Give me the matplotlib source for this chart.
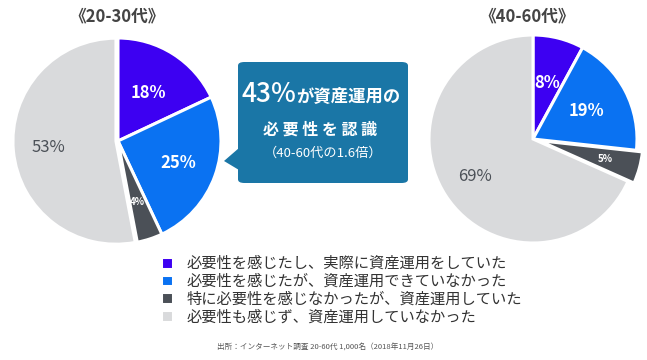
import numpy as np
import matplotlib.pyplot as plt
from matplotlib.patches import FancyBboxPatch, Polygon

plt.rcParams['font.family'] = ['Noto Sans CJK JP', 'DejaVu Sans']

# データ
groups = ["《20-30代》", "《40-60代》"]
young = [18, 25, 4, 53]
senior = [8, 19, 5, 69]
categories = [
    "必要性を感じたし、実際に資産運用をしていた",
    "必要性を感じたが、資産運用できていなかった",
    "特に必要性を感じなかったが、資産運用していた",
    "必要性も感じず、資産運用していなかった",
]
colors = ["#3d00f2", "#0a72f2", "#4b5057", "#d9dadc"]
label_colors = ["white", "white", "white", "#4b5057"]
label_sizes = [12, 12, 7, 12]

W, H = 647, 360
fig = plt.figure(figsize=(W / 100, H / 100), dpi=100)


def pie_axes(cx, cy, r):
    ax = fig.add_axes([(cx - r) / W, (H - cy - r) / H, 2 * r / W, 2 * r / H])
    ax.axis("off")
    return ax


def draw_pie(ax, vals, explode, dist):
    wedges, _ = ax.pie(vals, colors=colors, startangle=90, counterclock=False,
                       explode=explode, radius=1,
                       wedgeprops=dict(edgecolor="white", linewidth=2.2))
    ax.set_xlim(-1, 1)
    ax.set_ylim(-1, 1)
    ax.set_aspect("equal")
    for w, v, c, s, d in zip(wedges, vals, label_colors, label_sizes, dist):
        ang = np.deg2rad((w.theta1 + w.theta2) / 2)
        cx, cy = w.center
        ax.text(cx + d * np.cos(ang), cy + d * np.sin(ang), f"{v}%",
                ha="center", va="center", color=c, fontsize=s,
                fontweight="bold" if c == "white" else "normal")
        w.set_clip_on(False)
    return wedges


ax1 = pie_axes(118, 141, 103)
wedges = draw_pie(ax1, young, [0, 0, 0, 0.02], [0.55, 0.62, 0.62, 0.66])
ax2 = pie_axes(533, 139, 104)
draw_pie(ax2, senior, [0, 0, 0.06, 0], [0.56, 0.58, 0.66, 0.66])

fig.text(117 / W, 1 - 16 / H, groups[0], ha="center", va="center",
         fontsize=12, fontweight="bold", color="#444444")
fig.text(527 / W, 1 - 16 / H, groups[1], ha="center", va="center",
         fontsize=12, fontweight="bold", color="#444444")

# 吹き出し
box_col = "#1a76a6"
bx0, by0, bx1, by1 = 238, 62, 408, 183
box = FancyBboxPatch((bx0 / W, 1 - by1 / H), (bx1 - bx0) / W, (by1 - by0) / H,
                     boxstyle="round,pad=0,rounding_size=0.01",
                     transform=fig.transFigure, facecolor=box_col,
                     edgecolor="none")
fig.patches.append(box)
tri = Polygon([(239 / W, 1 - 148 / H), (224 / W, 1 - 161 / H), (239 / W, 1 - 170 / H)],
              closed=True, transform=fig.transFigure, facecolor=box_col,
              edgecolor="none")
fig.patches.append(tri)
fig.text(242 / W, 1 - 94 / H, "43%", ha="left", va="center",
         fontsize=19, fontweight="medium", color="white")
fig.text(296 / W, 1 - 97 / H, "が資産運用の", ha="left", va="center",
         fontsize=12.5, fontweight="bold", color="white")
fig.text(320 / W, 1 - 130 / H, "必 要 性 を 認 識", ha="center", va="center",
         fontsize=11.5, fontweight="bold", color="white")
fig.text(323 / W, 1 - 153 / H, "（40-60代の1.6倍）", ha="center", va="center",
         fontsize=9.5, color="white")

# 凡例
fig.legend(wedges, categories, loc="upper left",
           bbox_to_anchor=(161 / W, 1 - 255 / H), bbox_transform=fig.transFigure,
           frameon=False, fontsize=11, labelspacing=0.05, handlelength=0.8,
           handleheight=0.8, handletextpad=0.85, borderpad=0, borderaxespad=0,
           labelcolor="#333333")

fig.text(328 / W, 1 - 348 / H, "出所：インターネット調査 20-60代 1,000名（2018年11月26日）",
         ha="center", va="center", fontsize=5.5, color="#555555")

fig.savefig("out.png", dpi=100)
